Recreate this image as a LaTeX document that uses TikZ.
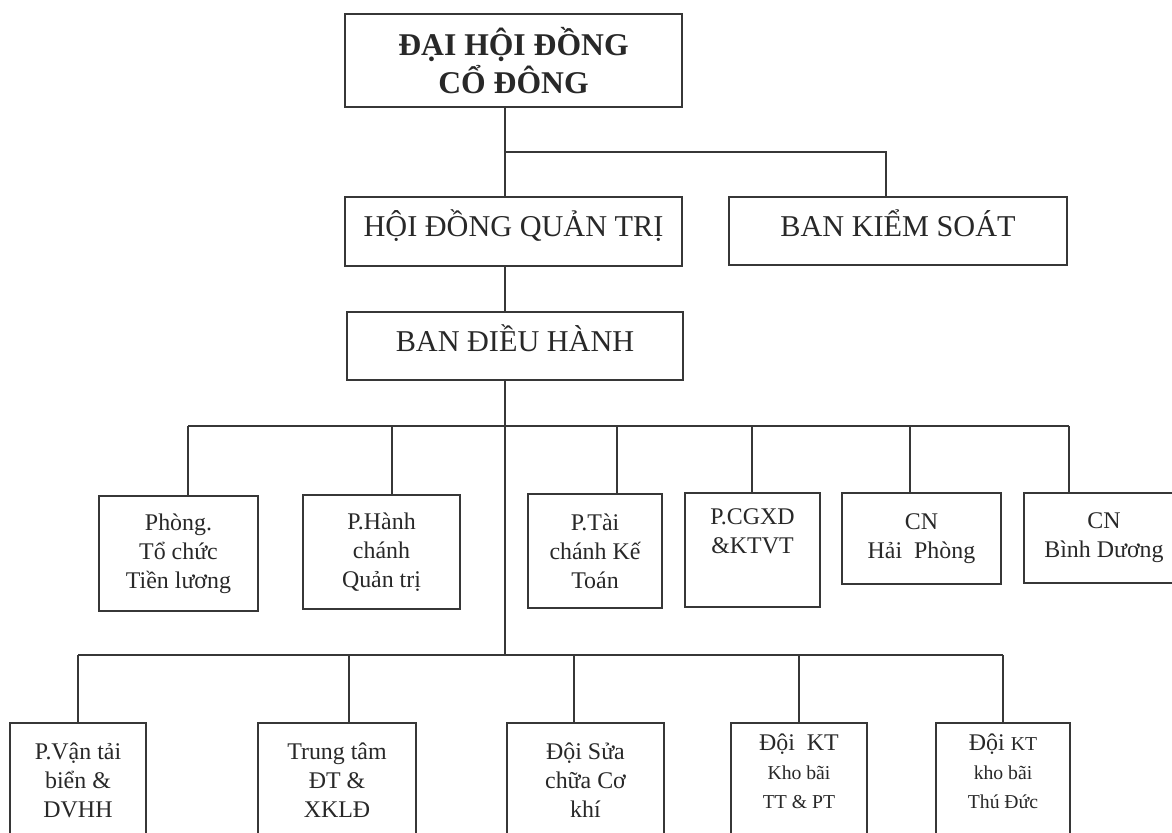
\documentclass[tikz,border=0pt]{standalone}
\usepackage[rgb]{xcolor}
\usepackage{fontspec}
\setmainfont{Liberation Serif}
\usepackage{tikz}

\definecolor{ink}{RGB}{40,40,40}
\definecolor{wire}{RGB}{55,55,55}

\begin{document}
\begin{tikzpicture}[x=0.025cm, y=-0.025cm,
  box/.style={draw=wire, line width=1.7pt, inner sep=0pt, outer sep=0pt,
    align=center, text=ink, font=\fontsize{17}{20.5}\selectfont},
  bigbox/.style={box, text depth=0.4cm, font=\fontsize{21.5}{25}\selectfont},
  link/.style={draw=wire, line width=1.2pt}]

\useasboundingbox (0,0) rectangle (1172,833);

%% top levels
\path
(513.5,60.5) node[box, minimum width=8.425cm, minimum height=2.325cm,
  font=\fontsize{22.5}{27}\selectfont\bfseries](dhcd) {ĐẠI HỘI ĐỒNG\\CỔ ĐÔNG}
(513.5,231.5) node[bigbox, minimum width=8.425cm, minimum height=1.725cm](hdqt) {HỘI ĐỒNG QUẢN TRỊ}
(898,231) node[bigbox, minimum width=8.45cm, minimum height=1.7cm](bks) {BAN KIỂM SOÁT}
(515,346) node[bigbox, minimum width=8.4cm, minimum height=1.7cm](bdh) {BAN ĐIỀU HÀNH};

%% phong ban
\path
(178.5,553.5) node[box, minimum width=3.975cm, minimum height=2.875cm](phong) {Phòng.\\Tổ chức\\Tiền lương}
(381.5,552) node[box, minimum width=3.925cm, minimum height=2.85cm](hanh) {P.Hành\\chánh\\Quản trị}
(595,551) node[box, minimum width=3.35cm, minimum height=2.85cm](taichinh) {P.Tài\\chánh Kế\\Toán}
(752.5,550) node[box, minimum width=3.375cm, minimum height=2.85cm](cgxd) {P.CGXD\\\&KTVT\\\strut}
(921.5,538.5) node[box, minimum width=3.975cm, minimum height=2.275cm](cnhp) {CN\\Hải~ Phòng}
(1104,538) node[box, minimum width=4cm, minimum height=2.25cm](cnbd) {CN\\Bình Dương};

%% don vi truc thuoc
\path
(78,780.5) node[box, minimum width=3.4cm, minimum height=2.875cm](vantai) {P.Vận tải\\biển \&\\DVHH}
(337,780.5) node[box, minimum width=3.95cm, minimum height=2.875cm](trungtam) {Trung tâm\\ĐT \&\\XKLĐ}
(585.5,780.5) node[box, minimum width=3.925cm, minimum height=2.875cm](doisua) {Đội Sửa\\chữa Cơ\\khí}
(799,780.5) node[box, minimum width=3.4cm, minimum height=2.875cm, text depth=0.45cm](doikt)
  {Đội~ KT\\{\fontsize{14}{16.5}\selectfont Kho bãi}\\{\fontsize{14}{16.5}\selectfont TT \& PT}}
(1003,780.5) node[box, minimum width=3.35cm, minimum height=2.875cm, text depth=0.45cm](doikttd)
  {Đội {\fontsize{14}{16.5}\selectfont KT}\\{\fontsize{14}{16.5}\selectfont kho bãi}\\{\fontsize{14}{16.5}\selectfont Thú Đức}};

%% trunk
\coordinate (trunk) at (505,0);
\coordinate (bus0) at (505,152);
\coordinate (tapbks) at (886,152);
\draw[link] (dhcd.south -| trunk) -- (hdqt.north -| trunk);
\draw[link] (bus0) -- (tapbks) -- (tapbks |- bks.north);
\draw[link] (hdqt.south -| trunk) -- (bdh.north -| trunk);
\draw[link] (bdh.south -| trunk) -- (trunk |- 0,655);

%% first bus
\foreach \n/\x in {phong/188, hanh/392, taichinh/617, cgxd/752, cnhp/910, cnbd/1069}{
  \coordinate (tap-\n) at (\x,426);
  \draw[link] (tap-\n) -- (tap-\n |- \n.north);
}
\draw[link] (tap-phong) -- (tap-cnbd);

%% second bus
\foreach \n/\x in {vantai/78, trungtam/349, doisua/574, doikt/799, doikttd/1003}{
  \coordinate (tap-\n) at (\x,655);
  \draw[link] (tap-\n) -- (tap-\n |- \n.north);
}
\draw[link] (tap-vantai) -- (tap-doikttd);

\end{tikzpicture}
\end{document}
